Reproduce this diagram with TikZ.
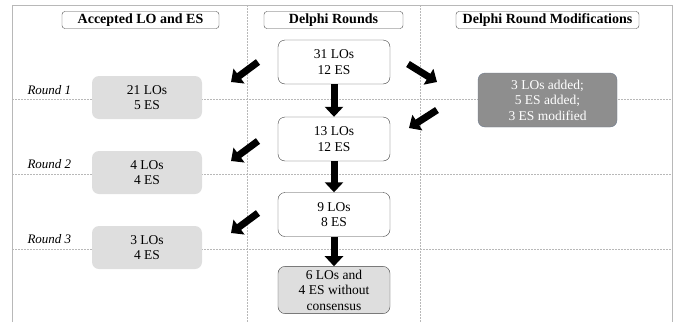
\documentclass[tikz,border=0pt]{standalone}
\usepackage{fontspec}
\setmainfont{Liberation Serif}
\usetikzlibrary{arrows.meta}
\definecolor{gridc}{HTML}{B8B8B8}
\definecolor{lightbox}{HTML}{DEDEDE}
\definecolor{darkbox}{HTML}{8E8E8E}
\definecolor{darkedge}{HTML}{6F7C8E}
\tikzset{
  hdr/.style={draw=black!70, rounded corners=3pt, fill=white, minimum height=17pt, font=\fontsize{14}{15}\selectfont\bfseries, inner sep=0pt},
  accbox/.style={fill=lightbox, rounded corners=7pt, minimum width=110pt, minimum height=43pt, align=center, font=\fontsize{13.5}{15.5}\selectfont},
  midbox/.style={draw=black!75, fill=white, rounded corners=7pt, minimum width=112pt, minimum height=44pt, align=center, font=\fontsize{13.5}{15.5}\selectfont},
  modbox/.style={draw=darkedge, fill=darkbox, rounded corners=7pt, minimum width=139pt, minimum height=54pt, align=center, text=white, font=\fontsize{13.5}{15.5}\selectfont},
  rlabel/.style={font=\fontsize{13}{15}\selectfont\itshape, anchor=base west},
  gridline/.style={draw=gridc, dash pattern=on 2pt off 1pt, line width=0.5pt},
  blockarrow/.style={line width=7pt, -{Triangle[length=10pt, width=18pt]}, black},
}
\begin{document}
\begin{tikzpicture}[x=1pt,y=-1pt]
\useasboundingbox (0,0) rectangle (678,322);
% frame
\draw[draw=gridc, line width=0.8pt] (12,322) -- (12,5) -- (672,5) -- (672,322);
% grid
\draw[gridline] (247,5) -- (247,322);
\draw[gridline] (420,5) -- (420,322);
\draw[gridline] (12,99) -- (672,99);
\draw[gridline] (12,174) -- (672,174);
\draw[gridline] (12,249) -- (672,249);
% headers
\node[hdr, minimum width=157pt] (h1) at (140.5,20) {Accepted LO and ES};
\node[hdr, minimum width=139pt] (h2) at (333.5,20) {Delphi Rounds};
\node[hdr, minimum width=183pt] (h3) at (547.5,20) {Delphi Round Modifications};
% round labels
\node[rlabel] (r1) at (24,94) {Round 1};
\node[rlabel] (r2) at (24,168) {Round 2};
\node[rlabel] (r3) at (24,243) {Round 3};
% accepted
\node[accbox] (a1) at (147,97.5) {21 LOs\\5 ES};
\node[accbox] (a2) at (147,172.5) {4 LOs\\4 ES};
\node[accbox] (a3) at (147,247.5) {3 LOs\\4 ES};
% middle
\node[midbox] (m1) at (334,62) {31 LOs\\12 ES};
\node[midbox] (m2) at (334,139) {13 LOs\\12 ES};
\node[midbox] (m3) at (334,214.5) {9 LOs\\8 ES};
\node[midbox, fill=lightbox] (m4) at (334,290) {6 LOs and\\4 ES without\\consensus};
% modifications
\node[modbox] (mod) at (547.5,100) {3 LOs added;\\5 ES added;\\3 ES modified};
% arrows
\draw[blockarrow] (m1.south) -- (m2.north);
\draw[blockarrow] (m2.south) -- (m3.north);
\draw[blockarrow] (m3.south) -- (m4.north);
\coordinate (l1s) at (258,62); \coordinate (l1e) at (231,82);
\coordinate (l2s) at (258,141); \coordinate (l2e) at (231,161);
\coordinate (l3s) at (258,213); \coordinate (l3e) at (231,233);
\coordinate (r1s) at (408,64); \coordinate (r1e) at (437,82);
\coordinate (r2s) at (437,110); \coordinate (r2e) at (409,128);
\draw[blockarrow] (l1s) -- (l1e);
\draw[blockarrow] (l2s) -- (l2e);
\draw[blockarrow] (l3s) -- (l3e);
\draw[blockarrow] (r1s) -- (r1e);
\draw[blockarrow] (r2s) -- (r2e);
\end{tikzpicture}
\end{document}
